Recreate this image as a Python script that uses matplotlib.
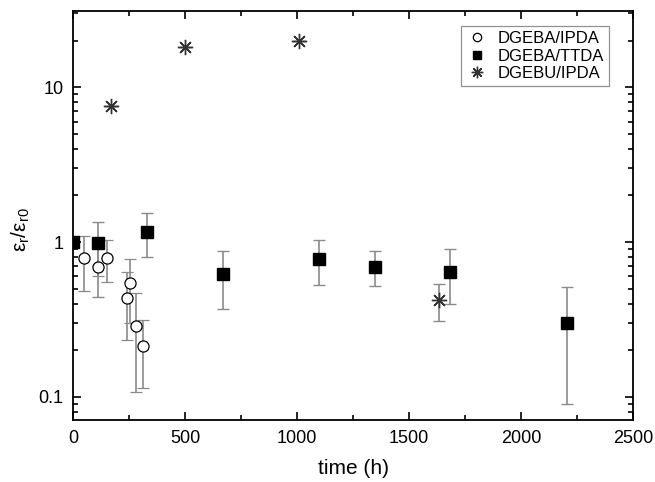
import numpy as np
import matplotlib
matplotlib.use('Agg')
import matplotlib.pyplot as plt
from matplotlib.ticker import MultipleLocator, LogLocator, FuncFormatter

plt.rcParams['font.family'] = ['Liberation Sans', 'DejaVu Sans']

# DGEBA/IPDA (open circles)
ipda_t = [50, 113, 152, 241, 254, 281, 311]
ipda_v = [0.785, 0.69, 0.785, 0.435, 0.542, 0.288, 0.214]
ipda_hi = [1.09, 0.95, 1.03, 0.64, 0.774, 0.47, 0.315]
ipda_lo = [0.48, 0.60, 0.55, 0.235, 0.30, 0.108, 0.115]

# DGEBA/TTDA (filled squares)
ttda_t = [0, 112, 332, 671, 1100, 1348, 1683, 2204]
ttda_v = [1.0, 0.985, 1.165, 0.62, 0.777, 0.69, 0.64, 0.30]
ttda_hi = [1.0, 1.35, 1.55, 0.88, 1.03, 0.87, 0.90, 0.51]
ttda_lo = [1.0, 0.44, 0.80, 0.37, 0.53, 0.52, 0.40, 0.090]

# DGEBU/IPDA (asterisks)
dgebu_t = [170, 501, 1007, 1632]
dgebu_v = [7.6, 18.2, 19.9, 0.425]
dgebu_hi = [7.6, 18.2, 19.9, 0.54]
dgebu_lo = [7.6, 18.2, 19.9, 0.31]


def yerr(v, lo, hi):
    v = np.array(v)
    return [v - np.array(lo), np.array(hi) - v]


fig = plt.figure(figsize=(6.55, 4.82), dpi=100)
ax = fig.add_axes([0.1115, 0.1286, 0.8549, 0.8484])

ecol = '#8a8a8a'
common = dict(ecolor=ecol, elinewidth=1.2, capsize=4, capthick=1.0, linestyle='none')

c1 = ax.errorbar(ipda_t, ipda_v, yerr=yerr(ipda_v, ipda_lo, ipda_hi), marker='o', ms=8,
                 mfc='white', mec='black', mew=0.9, label='DGEBA/IPDA', zorder=3, **common)
c2 = ax.errorbar(ttda_t, ttda_v, yerr=yerr(ttda_v, ttda_lo, ttda_hi), marker='s', ms=8,
                 mfc='black', mec='black', label='DGEBA/TTDA', zorder=3, **common)
c3 = ax.errorbar(dgebu_t, dgebu_v, yerr=yerr(dgebu_v, dgebu_lo, dgebu_hi), marker=(8, 2, 0), ms=11,
                 mfc='#333333', mec='#333333', mew=1.0, label='DGEBU/IPDA', zorder=3, **common)

ax.set_yscale('log')
ax.set_xlim(0, 2500)
ax.set_ylim(0.071, 31)

ax.xaxis.set_major_locator(MultipleLocator(500))
ax.xaxis.set_minor_locator(MultipleLocator(250))
ax.yaxis.set_major_locator(LogLocator(base=10, numticks=10))
ax.yaxis.set_minor_locator(LogLocator(base=10, subs=np.arange(2, 10), numticks=20))
ax.yaxis.set_major_formatter(FuncFormatter(lambda v, p: '{:g}'.format(v)))
ax.yaxis.set_minor_formatter(FuncFormatter(lambda v, p: ''))

ax.tick_params(which='both', direction='in', top=True, right=True, labelsize=13, width=1.2)
ax.tick_params(which='major', length=6, pad=7)
ax.tick_params(which='minor', length=3.5)
for s in ax.spines.values():
    s.set_linewidth(1.3)

ax.set_xlabel('time (h)', fontsize=15, labelpad=9)
ax.set_ylabel(r'$\mathregular{\epsilon_r/\epsilon_{r0}}$', fontsize=15)
ax.yaxis.set_label_coords(-0.073, 0.465)

leg = ax.legend(handles=[c1[0], c2[0], c3[0]], labels=['DGEBA/IPDA', 'DGEBA/TTDA', 'DGEBU/IPDA'],
                loc='upper right', bbox_to_anchor=(0.957, 0.963), borderaxespad=0, fontsize=12,
                frameon=True, fancybox=False, handletextpad=0.6, borderpad=0.3,
                labelspacing=0.15, handlelength=1.3, numpoints=1, markerscale=0.75)
leg.get_frame().set_edgecolor('#777777')
leg.get_frame().set_linewidth(0.9)

fig.savefig('out.png', dpi=100)
